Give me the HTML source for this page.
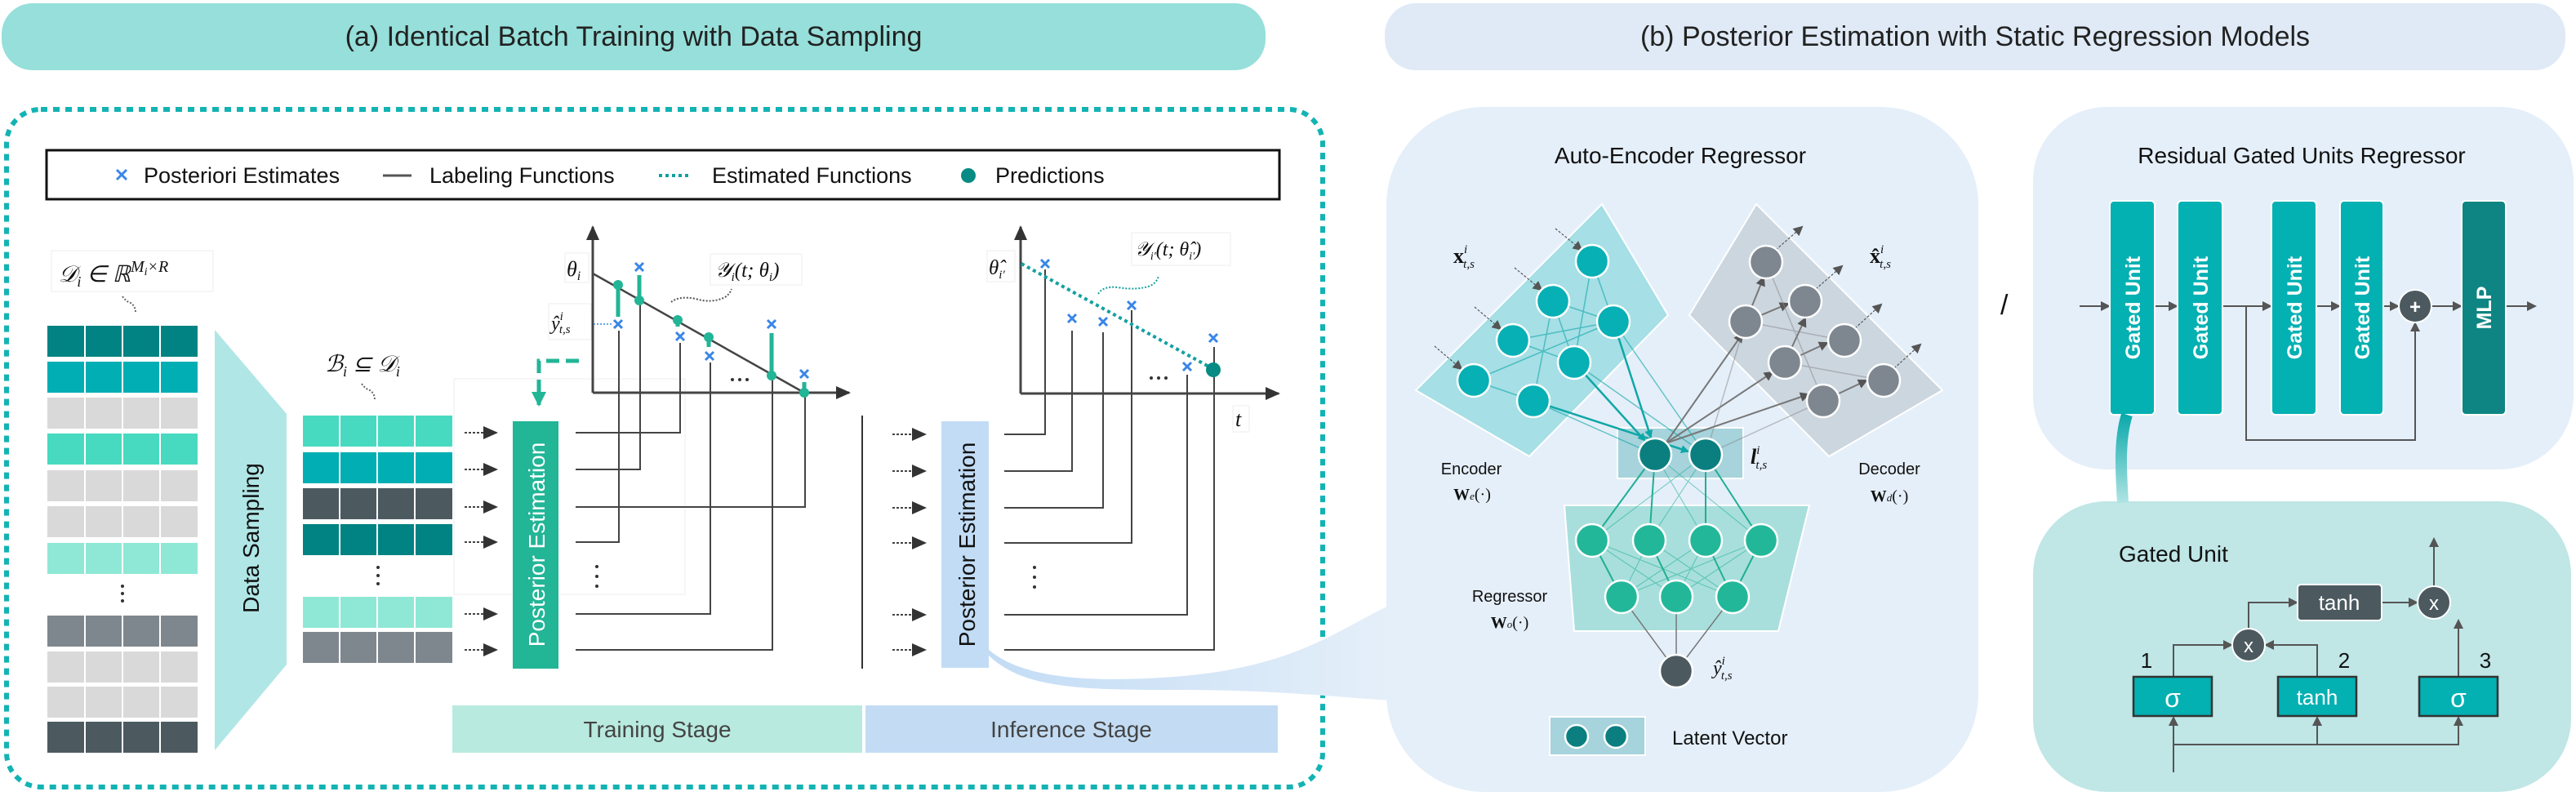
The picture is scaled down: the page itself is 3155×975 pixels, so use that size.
<!DOCTYPE html>
<html><head><meta charset="utf-8"><style>
html,body{margin:0;padding:0;background:#fff;}
svg{display:block;font-family:"Liberation Sans",sans-serif;}
.m{font-family:"Liberation Serif",serif;font-style:italic;}
</style></head><body>
<svg width="3155" height="975" viewBox="0 0 3155 975" xmlns="http://www.w3.org/2000/svg">
<defs>
<marker id="ah" markerWidth="8" markerHeight="8" refX="7" refY="4" orient="auto" markerUnits="userSpaceOnUse"><path d="M0,0 L8,4 L0,8z" fill="#444"/></marker>
<marker id="ahb" markerWidth="18" markerHeight="16" refX="16" refY="8" orient="auto" markerUnits="userSpaceOnUse"><path d="M0,0 L18,8 L0,16z" fill="#333"/></marker>
<marker id="ahg" markerWidth="12" markerHeight="12" refX="10" refY="6" orient="auto" markerUnits="userSpaceOnUse"><path d="M0,0 L12,6 L0,12z" fill="#555"/></marker>
<marker id="aht" markerWidth="10" markerHeight="10" refX="9" refY="5" orient="auto" markerUnits="userSpaceOnUse"><path d="M0,0 L10,5 L0,10z" fill="#0fa7a7"/></marker>
<marker id="ahgr" markerWidth="18" markerHeight="18" refX="16" refY="9" orient="auto" markerUnits="userSpaceOnUse"><path d="M0,0 L18,9 L0,18z" fill="#22b596"/></marker>
<linearGradient id="sw" x1="0" y1="0" x2="1" y2="0"><stop offset="0" stop-color="#c2dcf5"/><stop offset="1" stop-color="#e5eff9"/></linearGradient>
<linearGradient id="cn" x1="0" y1="0" x2="0" y2="1"><stop offset="0" stop-color="#0aa9ab"/><stop offset="1" stop-color="#b0e4e4"/></linearGradient>
</defs>

<rect x="2" y="4" width="1548" height="82" rx="38" fill="#96dfda"/>
<text x="776" y="56" font-size="34" text-anchor="middle" fill="#222">(a) Identical Batch Training with Data Sampling</text>
<rect x="1696" y="4" width="1446" height="82" rx="38" fill="#dfeaf6"/>
<text x="2419" y="56" font-size="34" text-anchor="middle" fill="#222">(b) Posterior Estimation with Static Regression Models</text>

<rect x="8" y="134" width="1612" height="830" rx="42" fill="none" stroke="#13b3b3" stroke-width="6" stroke-dasharray="8,7"/>

<rect x="57" y="184" width="1510" height="60" fill="#fff" stroke="#111" stroke-width="3"/>
<g stroke="#3a86e8" stroke-width="3"><line x1="143" y1="208" x2="155" y2="220"/><line x1="155" y1="208" x2="143" y2="220"/></g>
<text x="176" y="224" font-size="27" fill="#111">Posteriori Estimates</text>
<line x1="469" y1="215" x2="504" y2="215" stroke="#555" stroke-width="3"/>
<text x="526" y="224" font-size="27" fill="#111">Labeling Functions</text>
<line x1="807" y1="215" x2="846" y2="215" stroke="#13a0a0" stroke-width="4" stroke-dasharray="4,4"/>
<text x="872" y="224" font-size="27" fill="#111">Estimated Functions</text>
<circle cx="1186" cy="215" r="9" fill="#088b85"/>
<text x="1219" y="224" font-size="27" fill="#111">Predictions</text>

<rect x="63" y="307" width="198" height="50" fill="#fff" stroke="#eee"/>
<text x="72" y="345" font-size="28" class="m" fill="#111">𝒟<tspan font-size="18" dy="6">i</tspan><tspan dy="-6"> ∈ ℝ</tspan><tspan font-size="20" dy="-12">M</tspan><tspan font-size="14" dy="4">i</tspan><tspan font-size="20" dy="-4">×R</tspan></text>
<path d="M150,363 q4,6 10,8 q6,4 6,12" fill="none" stroke="#666" stroke-width="2" stroke-dasharray="2,2"/>

<g>
<g fill="#028383"><rect x="58" y="399" width="45" height="38"/><rect x="105" y="399" width="44" height="38"/><rect x="151" y="399" width="44" height="38"/><rect x="197" y="399" width="45" height="38"/></g>
<g fill="#00aeb3"><rect x="58" y="443" width="45" height="38"/><rect x="105" y="443" width="44" height="38"/><rect x="151" y="443" width="44" height="38"/><rect x="197" y="443" width="45" height="38"/></g>
<g fill="#d9d9d9"><rect x="58" y="487" width="45" height="38"/><rect x="105" y="487" width="44" height="38"/><rect x="151" y="487" width="44" height="38"/><rect x="197" y="487" width="45" height="38"/></g>
<g fill="#48dac0"><rect x="58" y="531" width="45" height="38"/><rect x="105" y="531" width="44" height="38"/><rect x="151" y="531" width="44" height="38"/><rect x="197" y="531" width="45" height="38"/></g>
<g fill="#d9d9d9"><rect x="58" y="576" width="45" height="38"/><rect x="105" y="576" width="44" height="38"/><rect x="151" y="576" width="44" height="38"/><rect x="197" y="576" width="45" height="38"/></g>
<g fill="#d9d9d9"><rect x="58" y="620" width="45" height="38"/><rect x="105" y="620" width="44" height="38"/><rect x="151" y="620" width="44" height="38"/><rect x="197" y="620" width="45" height="38"/></g>
<g fill="#8fe8d6"><rect x="58" y="665" width="45" height="38"/><rect x="105" y="665" width="44" height="38"/><rect x="151" y="665" width="44" height="38"/><rect x="197" y="665" width="45" height="38"/></g>
<g fill="#7f878e"><rect x="58" y="754" width="45" height="38"/><rect x="105" y="754" width="44" height="38"/><rect x="151" y="754" width="44" height="38"/><rect x="197" y="754" width="45" height="38"/></g>
<g fill="#d9d9d9"><rect x="58" y="798" width="45" height="38"/><rect x="105" y="798" width="44" height="38"/><rect x="151" y="798" width="44" height="38"/><rect x="197" y="798" width="45" height="38"/></g>
<g fill="#d9d9d9"><rect x="58" y="841" width="45" height="38"/><rect x="105" y="841" width="44" height="38"/><rect x="151" y="841" width="44" height="38"/><rect x="197" y="841" width="45" height="38"/></g>
<g fill="#4c5a60"><rect x="58" y="884" width="45" height="38"/><rect x="105" y="884" width="44" height="38"/><rect x="151" y="884" width="44" height="38"/><rect x="197" y="884" width="45" height="38"/></g>
</g>
<g fill="#333"><circle cx="150" cy="718" r="2"/><circle cx="150" cy="727" r="2"/><circle cx="150" cy="736" r="2"/></g>

<polygon points="263,404 351,507 351,814 263,919" fill="#b0e6e6"/>
<text transform="translate(317,659) rotate(-90)" font-size="28" text-anchor="middle" fill="#111">Data Sampling</text>

<text x="398" y="455" font-size="28" class="m" fill="#111">ℬ<tspan font-size="18" dy="6">i</tspan><tspan dy="-6"> ⊆ 𝒟</tspan><tspan font-size="18" dy="6">i</tspan></text>
<path d="M443,470 q4,6 10,8 q6,4 6,12" fill="none" stroke="#666" stroke-width="2" stroke-dasharray="2,2"/>
<g>
<g fill="#48dac0"><rect x="371" y="509" width="44" height="38"/><rect x="417" y="509" width="44" height="38"/><rect x="463" y="509" width="44" height="38"/><rect x="509" y="509" width="45" height="38"/></g>
<g fill="#00aeb3"><rect x="371" y="554" width="44" height="38"/><rect x="417" y="554" width="44" height="38"/><rect x="463" y="554" width="44" height="38"/><rect x="509" y="554" width="45" height="38"/></g>
<g fill="#4c5a60"><rect x="371" y="598" width="44" height="38"/><rect x="417" y="598" width="44" height="38"/><rect x="463" y="598" width="44" height="38"/><rect x="509" y="598" width="45" height="38"/></g>
<g fill="#028383"><rect x="371" y="642" width="44" height="38"/><rect x="417" y="642" width="44" height="38"/><rect x="463" y="642" width="44" height="38"/><rect x="509" y="642" width="45" height="38"/></g>
<g fill="#8fe8d6"><rect x="371" y="731" width="44" height="38"/><rect x="417" y="731" width="44" height="38"/><rect x="463" y="731" width="44" height="38"/><rect x="509" y="731" width="45" height="38"/></g>
<g fill="#7f878e"><rect x="371" y="774" width="44" height="38"/><rect x="417" y="774" width="44" height="38"/><rect x="463" y="774" width="44" height="38"/><rect x="509" y="774" width="45" height="38"/></g>
</g>
<g fill="#333"><circle cx="463" cy="695" r="2"/><circle cx="463" cy="705" r="2"/><circle cx="463" cy="715" r="2"/></g>

<g stroke="#444" stroke-width="2" stroke-dasharray="3,2" marker-end="url(#ahb)">
<line x1="569" y1="530" x2="608" y2="530"/><line x1="569" y1="575" x2="608" y2="575"/><line x1="569" y1="621" x2="608" y2="621"/><line x1="569" y1="664" x2="608" y2="664"/><line x1="569" y1="752" x2="608" y2="752"/><line x1="569" y1="796" x2="608" y2="796"/>
</g>
<rect x="556" y="464" width="283" height="264" fill="none" stroke="#eee"/>
<rect x="628" y="516" width="56" height="303" fill="#22b596"/>
<text transform="translate(667,667) rotate(-90)" font-size="28" text-anchor="middle" fill="#fff">Posterior Estimation</text>

<g stroke="#444" stroke-width="2" fill="none">
<polyline points="705,530 833,530 833,420"/>
<polyline points="705,575 784,575 784,368"/>
<polyline points="705,621 986,621 986,481"/>
<polyline points="705,664 758,664 758,405"/>
<polyline points="705,752 870,752 870,444"/>
<polyline points="705,796 946,796 946,460"/>
</g>
<g fill="#333"><circle cx="731" cy="694" r="2"/><circle cx="731" cy="706" r="2"/><circle cx="731" cy="718" r="2"/></g>
<line x1="726" y1="481" x2="726" y2="278" stroke="#444" stroke-width="3" marker-end="url(#ahb)"/>
<line x1="726" y1="481" x2="1040" y2="481" stroke="#444" stroke-width="3" marker-end="url(#ahb)"/>
<line x1="726" y1="335" x2="985" y2="481" stroke="#444" stroke-width="2.5"/>
<g stroke="#22b596" stroke-width="5">
<line x1="757" y1="349" x2="757" y2="388"/><line x1="783" y1="337" x2="783" y2="368"/><line x1="830" y1="392" x2="830" y2="400"/><line x1="868" y1="413" x2="868" y2="425"/><line x1="945" y1="408" x2="945" y2="460"/><line x1="985" y1="468" x2="985" y2="481"/>
</g>
<g fill="#22b596"><circle cx="757" cy="349" r="6"/><circle cx="783" cy="368" r="6"/><circle cx="830" cy="392" r="6"/><circle cx="868" cy="413" r="6"/><circle cx="945" cy="460" r="6"/><circle cx="985" cy="481" r="6"/></g>
<g stroke="#3a86e8" stroke-width="3">
<path d="M752,392 l10,10 M762,392 l-10,10"/><path d="M778,322 l10,10 M788,322 l-10,10"/><path d="M828,407 l10,10 M838,407 l-10,10"/><path d="M864,431 l10,10 M874,431 l-10,10"/><path d="M940,392 l10,10 M950,392 l-10,10"/><path d="M980,453 l10,10 M990,453 l-10,10"/>
</g>
<line x1="727" y1="397" x2="750" y2="397" stroke="#3a86e8" stroke-width="1.5" stroke-dasharray="2,2"/>
<g fill="#333"><circle cx="897" cy="465" r="2"/><circle cx="906" cy="465" r="2"/><circle cx="915" cy="465" r="2"/></g>
<rect x="692" y="310" width="29" height="36" fill="#fff" stroke="#eee"/>
<text x="694" y="338" font-size="26" class="m" fill="#111">θ<tspan font-size="16" dy="5">i</tspan></text>
<rect x="672" y="372" width="52" height="44" fill="#fff" stroke="#eee"/>
<text x="675" y="404" font-size="24" class="m" fill="#111">ŷ<tspan font-size="15" dy="-12">i</tspan><tspan font-size="15" dx="-5" dy="16">t,s</tspan></text>
<rect x="870" y="311" width="112" height="38" fill="#fff" stroke="#eee"/>
<text x="876" y="339" font-size="25" class="m" fill="#111">𝒴<tspan font-size="15" dy="5">i</tspan><tspan dy="-5">(t; θ</tspan><tspan font-size="15" dy="5">i</tspan><tspan dy="-5">)</tspan></text>
<path d="M822,370 q10,-8 30,-4 q20,6 36,-2 q6,-4 8,-10" fill="none" stroke="#555" stroke-width="2" stroke-dasharray="2,2"/>
<polyline points="709,442 660,442 660,496" fill="none" stroke="#22b596" stroke-width="5" stroke-dasharray="16,8" marker-end="url(#ahgr)"/>

<line x1="1056" y1="509" x2="1056" y2="819" stroke="#333" stroke-width="2"/>

<path d="M1200,790 C1240,845 1320,845 1450,845 C1560,845 1650,855 1705,858 L1705,740 C1640,770 1590,815 1450,828 C1330,838 1250,830 1210,795 Z" fill="url(#sw)"/>

<g stroke="#444" stroke-width="2" stroke-dasharray="3,2" marker-end="url(#ahb)">
<line x1="1093" y1="532" x2="1133" y2="532"/><line x1="1093" y1="577" x2="1133" y2="577"/><line x1="1093" y1="622" x2="1133" y2="622"/><line x1="1093" y1="665" x2="1133" y2="665"/><line x1="1093" y1="753" x2="1133" y2="753"/><line x1="1093" y1="796" x2="1133" y2="796"/>
</g>
<rect x="1153" y="516" width="58" height="302" fill="#c2dcf5"/>
<text transform="translate(1194,667) rotate(-90)" font-size="28" text-anchor="middle" fill="#111">Posterior Estimation</text>
<g stroke="#444" stroke-width="2" fill="none">
<polyline points="1230,532 1280,532 1280,330"/>
<polyline points="1230,577 1313,577 1313,405"/>
<polyline points="1230,622 1351,622 1351,407"/>
<polyline points="1230,665 1386,665 1386,380"/>
<polyline points="1230,753 1454,753 1454,459"/>
<polyline points="1230,796 1487,796 1487,425"/>
</g>
<g fill="#333"><circle cx="1267" cy="695" r="2"/><circle cx="1267" cy="707" r="2"/><circle cx="1267" cy="719" r="2"/></g>
<line x1="1250" y1="482" x2="1250" y2="278" stroke="#444" stroke-width="3" marker-end="url(#ahb)"/>
<line x1="1250" y1="482" x2="1566" y2="482" stroke="#444" stroke-width="3" marker-end="url(#ahb)"/>
<line x1="1251" y1="323" x2="1486" y2="452" stroke="#13a0a0" stroke-width="4" stroke-dasharray="4,4"/>
<circle cx="1486" cy="453" r="9" fill="#088b85"/>
<g stroke="#3a86e8" stroke-width="3">
<path d="M1275,318 l10,10 M1285,318 l-10,10"/><path d="M1308,385 l10,10 M1318,385 l-10,10"/><path d="M1346,389 l10,10 M1356,389 l-10,10"/><path d="M1381,369 l10,10 M1391,369 l-10,10"/><path d="M1449,444 l10,10 M1459,444 l-10,10"/><path d="M1481,409 l10,10 M1491,409 l-10,10"/>
</g>
<g fill="#333"><circle cx="1410" cy="463" r="2"/><circle cx="1419" cy="463" r="2"/><circle cx="1428" cy="463" r="2"/></g>
<rect x="1209" y="307" width="34" height="38" fill="#fff" stroke="#eee"/>
<text x="1211" y="336" font-size="25" class="m" fill="#111">θ̂<tspan font-size="15" dy="5">i′</tspan></text>
<rect x="1386" y="285" width="121" height="40" fill="#fff" stroke="#eee"/>
<text x="1390" y="313" font-size="24" class="m" fill="#111">𝒴<tspan font-size="14" dy="5">i′</tspan><tspan dy="-5">(t; θ̂</tspan><tspan font-size="14" dy="5">i′</tspan><tspan dy="-5">)</tspan></text>
<path d="M1345,360 q6,-10 24,-8 q24,4 40,-2 q8,-4 10,-12" fill="none" stroke="#13a0a0" stroke-width="2" stroke-dasharray="2,2"/>
<rect x="1510" y="497" width="20" height="32" fill="#fff" stroke="#eee"/>
<text x="1513" y="522" font-size="26" class="m" fill="#111">t</text>

<rect x="554" y="864" width="502" height="58" fill="#b9eadf"/>
<text x="805" y="903" font-size="28" text-anchor="middle" fill="#444">Training Stage</text>
<rect x="1060" y="864" width="505" height="58" fill="#c3dcf4"/>
<text x="1312" y="903" font-size="28" text-anchor="middle" fill="#444">Inference Stage</text>

<rect x="1698" y="131" width="725" height="839" rx="120" fill="#e5eff9"/>
<text x="2058" y="200" font-size="28" text-anchor="middle" fill="#111">Auto-Encoder Regressor</text>
<polygon points="1962,250 2043,386 1873,559 1734,478" fill="#a6dfe6" stroke="#fff" stroke-width="2"/>
<polygon points="2151,250 2069,386 2240,559 2379,478" fill="#ccd6df" stroke="#fff" stroke-width="2"/>
<rect x="1981" y="524" width="154" height="62" fill="#a6d3dc" stroke="#fff" stroke-width="2"/>
<polygon points="1916,619 2216,619 2178,773 1928,773" fill="#a8dfdc" stroke="#fff" stroke-width="2"/>

<g stroke="#0fa7a7" stroke-width="1.5" opacity="0.6">
<line x1="1950" y1="320" x2="1976" y2="394"/><line x1="1950" y1="320" x2="1928" y2="444"/><line x1="1902" y1="369" x2="1976" y2="394"/><line x1="1902" y1="369" x2="1878" y2="491"/><line x1="1853" y1="417" x2="1976" y2="394"/><line x1="1853" y1="417" x2="1928" y2="444"/><line x1="1805" y1="466" x2="1976" y2="394"/><line x1="1805" y1="466" x2="1878" y2="491"/><line x1="1902" y1="369" x2="1928" y2="444"/>
<line x1="1976" y1="394" x2="2089" y2="557"/><line x1="1928" y1="444" x2="2089" y2="557"/><line x1="1878" y1="491" x2="2027" y2="557"/>
</g>
<g stroke="#0fa7a7" stroke-width="2.5" marker-end="url(#aht)">
<line x1="1878" y1="491" x2="2068" y2="553"/><line x1="1928" y1="444" x2="2015" y2="540"/><line x1="1976" y1="394" x2="2022" y2="536"/>
</g>
<g stroke="#777" stroke-width="2" marker-end="url(#ahg)">
<line x1="2040" y1="543" x2="2134" y2="409"/><line x1="2040" y1="543" x2="2171" y2="456"/><line x1="2040" y1="543" x2="2215" y2="483"/>
<line x1="2138" y1="394" x2="2160" y2="340"/><line x1="2138" y1="394" x2="2190" y2="372"/><line x1="2186" y1="444" x2="2211" y2="390"/><line x1="2233" y1="491" x2="2286" y2="466"/><line x1="2186" y1="444" x2="2238" y2="420"/>
</g>
<g stroke="#888" stroke-width="1.5" opacity="0.5">
<line x1="2089" y1="557" x2="2138" y2="394"/><line x1="2089" y1="557" x2="2233" y2="491"/><line x1="2138" y1="394" x2="2259" y2="417"/><line x1="2186" y1="444" x2="2307" y2="466"/><line x1="2163" y1="321" x2="2233" y2="491"/>
</g>
<g stroke="#555" stroke-width="1.2" stroke-dasharray="3,2" marker-end="url(#ahg)">
<line x1="1905" y1="280" x2="1937" y2="306"/><line x1="1855" y1="328" x2="1888" y2="355"/><line x1="1806" y1="376" x2="1838" y2="403"/><line x1="1757" y1="424" x2="1790" y2="452"/>
<line x1="2175" y1="306" x2="2207" y2="278"/><line x1="2224" y1="354" x2="2256" y2="326"/><line x1="2272" y1="402" x2="2304" y2="373"/><line x1="2320" y1="451" x2="2352" y2="422"/>
</g>
<g fill="#06b0b5" stroke="#fff" stroke-width="2.5">
<circle cx="1950" cy="320" r="20"/><circle cx="1902" cy="369" r="20"/><circle cx="1976" cy="394" r="20"/><circle cx="1853" cy="417" r="20"/><circle cx="1928" cy="444" r="20"/><circle cx="1805" cy="466" r="20"/><circle cx="1878" cy="491" r="20"/>
</g>
<g fill="#7e878f" stroke="#fff" stroke-width="2.5">
<circle cx="2163" cy="321" r="20"/><circle cx="2211" cy="369" r="20"/><circle cx="2138" cy="394" r="20"/><circle cx="2259" cy="417" r="20"/><circle cx="2186" cy="444" r="20"/><circle cx="2307" cy="466" r="20"/><circle cx="2233" cy="491" r="20"/>
</g>
<g stroke="#1faf93" stroke-width="2">
<line x1="2027" y1="557" x2="1950" y2="662"/><line x1="2027" y1="557" x2="2020" y2="662"/><line x1="2089" y1="557" x2="2089" y2="662"/><line x1="2089" y1="557" x2="2157" y2="662"/>
</g>
<g stroke="#1faf93" stroke-width="1.2" opacity="0.5">
<line x1="2027" y1="557" x2="2089" y2="662"/><line x1="2027" y1="557" x2="2157" y2="662"/><line x1="2089" y1="557" x2="1950" y2="662"/><line x1="2089" y1="557" x2="2020" y2="662"/>
<line x1="1950" y1="662" x2="2053" y2="731"/><line x1="1950" y1="662" x2="2122" y2="731"/><line x1="2020" y1="662" x2="1986" y2="731"/><line x1="2020" y1="662" x2="2122" y2="731"/><line x1="2089" y1="662" x2="1986" y2="731"/><line x1="2089" y1="662" x2="2053" y2="731"/><line x1="2157" y1="662" x2="1986" y2="731"/><line x1="2157" y1="662" x2="2053" y2="731"/>
</g>
<g stroke="#1faf93" stroke-width="2"><line x1="1950" y1="662" x2="1986" y2="731"/><line x1="2020" y1="662" x2="2053" y2="731"/><line x1="2089" y1="662" x2="2122" y2="731"/><line x1="2157" y1="662" x2="2122" y2="731"/></g>
<g stroke="#777" stroke-width="1.5"><line x1="1986" y1="731" x2="2053" y2="822"/><line x1="2053" y1="731" x2="2053" y2="822"/><line x1="2122" y1="731" x2="2053" y2="822"/></g>
<g fill="#0b7f80" stroke="#fff" stroke-width="2.5"><circle cx="2027" cy="557" r="20"/><circle cx="2089" cy="557" r="20"/></g>
<g fill="#23b79a" stroke="#fff" stroke-width="2.5">
<circle cx="1950" cy="662" r="20"/><circle cx="2020" cy="662" r="20"/><circle cx="2089" cy="662" r="20"/><circle cx="2157" cy="662" r="20"/>
<circle cx="1986" cy="731" r="20"/><circle cx="2053" cy="731" r="20"/><circle cx="2122" cy="731" r="20"/>
</g>
<circle cx="2053" cy="822" r="20" fill="#4c5a60" stroke="#fff" stroke-width="2.5"/>
<text x="1780" y="322" font-size="26" font-family="Liberation Serif" font-weight="bold" fill="#111">x<tspan font-size="15" font-style="italic" font-weight="normal" dy="-12">i</tspan><tspan font-size="15" font-style="italic" font-weight="normal" dx="-5" dy="18">t,s</tspan></text>
<text x="2290" y="322" font-size="26" font-family="Liberation Serif" font-weight="bold" fill="#111">x̂<tspan font-size="15" font-style="italic" font-weight="normal" dy="-12">i</tspan><tspan font-size="15" font-style="italic" font-weight="normal" dx="-5" dy="18">t,s</tspan></text>
<text x="2144" y="568" font-size="26" class="m" font-weight="bold" fill="#111">l<tspan font-size="15" font-weight="normal" dy="-12">i</tspan><tspan font-size="15" font-weight="normal" dx="-5" dy="18">t,s</tspan></text>
<text x="2098" y="826" font-size="24" class="m" fill="#111">ŷ<tspan font-size="15" dy="-12">i</tspan><tspan font-size="15" dx="-5" dy="18">t,s</tspan></text>
<text x="1802" y="581" font-size="20" text-anchor="middle" fill="#111">Encoder</text>
<text x="1803" y="612" font-size="20" font-family="Liberation Serif" text-anchor="middle" fill="#111"><tspan font-weight="bold">W</tspan><tspan font-size="13" font-style="italic">e</tspan>(·)</text>
<text x="2314" y="581" font-size="20" text-anchor="middle" fill="#111">Decoder</text>
<text x="2314" y="614" font-size="20" font-family="Liberation Serif" text-anchor="middle" fill="#111"><tspan font-weight="bold">W</tspan><tspan font-size="13" font-style="italic">d</tspan>(·)</text>
<text x="1849" y="737" font-size="20" text-anchor="middle" fill="#111">Regressor</text>
<text x="1849" y="769" font-size="20" font-family="Liberation Serif" text-anchor="middle" fill="#111"><tspan font-weight="bold">W</tspan><tspan font-size="13" font-style="italic">o</tspan>(·)</text>
<rect x="1898" y="878" width="117" height="47" fill="#a6d3dc" stroke="#fff" stroke-width="2"/>
<g fill="#0b7f80" stroke="#fff" stroke-width="2.5"><circle cx="1931" cy="902" r="14"/><circle cx="1979" cy="902" r="14"/></g>
<text x="2048" y="912" font-size="24" fill="#111">Latent Vector</text>

<text x="2450" y="385" font-size="34" fill="#111">/</text>

<rect x="2490" y="131" width="662" height="444" rx="90" fill="#e5eff9"/>
<text x="2819" y="200" font-size="28" text-anchor="middle" fill="#111">Residual Gated Units Regressor</text>
<g stroke="#555" stroke-width="2" marker-end="url(#ahg)">
<line x1="2547" y1="375" x2="2583" y2="375"/><line x1="2639" y1="375" x2="2666" y2="375"/><line x1="2722" y1="375" x2="2781" y2="375"/><line x1="2837" y1="375" x2="2865" y2="375"/><line x1="2919" y1="375" x2="2937" y2="375"/><line x1="2978" y1="375" x2="3014" y2="375"/><line x1="3069" y1="375" x2="3105" y2="375"/>
<polyline points="2751,375 2751,539 2958,539 2958,396" fill="none"/>
</g>
<g fill="#03b0b2" stroke="#fff" stroke-width="2">
<rect x="2584" y="246" width="55" height="262" rx="5"/><rect x="2667" y="246" width="55" height="262" rx="5"/><rect x="2782" y="246" width="55" height="262" rx="5"/><rect x="2866" y="246" width="53" height="262" rx="5"/>
</g>
<rect x="3015" y="246" width="54" height="262" rx="5" fill="#0e8583" stroke="#fff" stroke-width="2"/>
<g font-size="25" font-weight="bold" fill="#fff" text-anchor="middle">
<text transform="translate(2621,377) rotate(-90)">Gated Unit</text>
<text transform="translate(2704,377) rotate(-90)">Gated Unit</text>
<text transform="translate(2819,377) rotate(-90)">Gated Unit</text>
<text transform="translate(2902,377) rotate(-90)">Gated Unit</text>
<text transform="translate(3051,377) rotate(-90)">MLP</text>
</g>
<circle cx="2958" cy="375" r="20" fill="#4c5a60" stroke="#fff" stroke-width="2"/>
<text x="2958" y="384" font-size="24" font-weight="bold" fill="#fff" text-anchor="middle">+</text>

<rect x="2490" y="614" width="659" height="356" rx="90" fill="#c0e6e6"/>
<path d="M2605,508 C2595,540 2598,580 2600,616" fill="none" stroke="url(#cn)" stroke-width="14"/>
<text x="2595" y="688" font-size="28" fill="#111">Gated Unit</text>
<g stroke="#555" stroke-width="2" fill="none" marker-end="url(#ahg)">
<line x1="2662" y1="946" x2="2662" y2="879"/>
<polyline points="2662,912 2838,912 2838,879"/>
<polyline points="2838,912 3011,912 3011,879"/>
<polyline points="2662,829 2662,790 2733,790"/>
<polyline points="2838,829 2838,790 2775,790"/>
<polyline points="2754,770 2754,738 2813,738"/>
<line x1="2917" y1="738" x2="2960" y2="738"/>
<line x1="3011" y1="829" x2="3011" y2="760"/>
<line x1="2981" y1="718" x2="2981" y2="660"/>
</g>
<g stroke="#333" stroke-width="2.5" fill="#03b0b2">
<rect x="2613" y="829" width="96" height="48"/><rect x="2790" y="829" width="96" height="48"/><rect x="2963" y="829" width="96" height="48"/>
</g>
<rect x="2814" y="716" width="103" height="44" rx="4" fill="#4c5a60" stroke="#fff" stroke-width="2"/>
<text x="2865" y="747" font-size="26" fill="#fff" text-anchor="middle">tanh</text>
<text x="2661" y="866" font-size="32" fill="#fff" text-anchor="middle">σ</text>
<text x="2838" y="863" font-size="26" fill="#fff" text-anchor="middle">tanh</text>
<text x="3011" y="866" font-size="32" fill="#fff" text-anchor="middle">σ</text>
<g fill="#4c5a60" stroke="#fff" stroke-width="2"><circle cx="2754" cy="790" r="20"/><circle cx="2981" cy="738" r="20"/></g>
<text x="2754" y="799" font-size="24" fill="#fff" text-anchor="middle">x</text>
<text x="2981" y="747" font-size="24" fill="#fff" text-anchor="middle">x</text>
<text x="2629" y="818" font-size="26" text-anchor="middle" fill="#111">1</text>
<text x="2871" y="818" font-size="26" text-anchor="middle" fill="#111">2</text>
<text x="3044" y="818" font-size="26" text-anchor="middle" fill="#111">3</text>
</svg>
</body></html>
